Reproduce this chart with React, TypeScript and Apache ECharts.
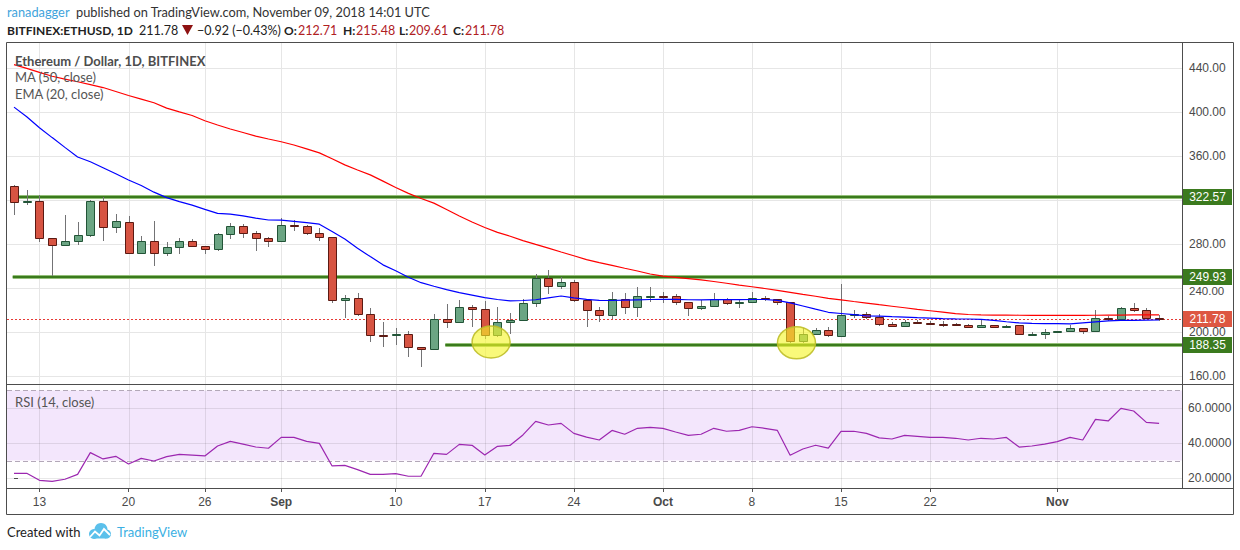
import React, { useEffect, useRef } from "react";
import * as echarts from "echarts";

// ---------- data ----------
const dates: string[] = [
  "08-11","08-12","08-13","08-14","08-15","08-16","08-17","08-18","08-19","08-20",
  "08-21","08-22","08-23","08-24","08-25","08-26","08-27","08-28","08-29","08-30",
  "08-31","09-01","09-02","09-03","09-04","09-05","09-06","09-07","09-08","09-09",
  "09-10","09-11","09-12","09-13","09-14","09-15","09-16","09-17","09-18","09-19",
  "09-20","09-21","09-22","09-23","09-24","09-25","09-26","09-27","09-28","09-29",
  "09-30","10-01","10-02","10-03","10-04","10-05","10-06","10-07","10-08","10-09",
  "10-10","10-11","10-12","10-13","10-14","10-15","10-16","10-17","10-18","10-19",
  "10-20","10-21","10-22","10-23","10-24","10-25","10-26","10-27","10-28","10-29",
  "10-30","10-31","11-01","11-02","11-03","11-04","11-05","11-06","11-07","11-08",
  "11-09",
];

const open = [
  332.7,318.5,318.8,285.2,278.8,282.4,287.9,318.8,295.2,299.7,
  271.5,282.4,271.5,277,282.4,278,275.2,288.8,296.1,289.7,
  285.2,282.4,297,296.1,289.7,286.1,228.8,230.6,216,197.3,
  197.3,197.9,186,184.3,211.5,208.8,222.5,220.6,197,208.8,
  210.6,226.1,248.8,241.5,245.2,228.8,219.7,215.2,229.7,222.5,
  232.5,233,232.5,227,221.5,223.3,229.7,226,227,230.9,
  229.7,227,191.5,197.9,201.5,196.7,215.2,216.1,213.4,207,
  205.2,208.8,208,207.5,207,206.1,204.3,206.1,205.3,206.1,
  197.9,197.9,200.3,200.6,203.3,200.6,213,211.5,221.5,219.7,
  212.71,
];
const close = [
  318.5,319,285.2,278.8,282.4,287.9,318.8,295.2,300.6,271.5,
  282.4,271.5,277,282.4,278,275.2,288.8,296.1,289.7,285.2,
  282.4,297,296.5,289.7,286.1,229.1,230.6,216,197,196.8,
  197.8,186,184.3,211.5,208.8,222.5,220.6,197,208.8,210.6,
  226.1,248.8,241.5,245.2,228.8,219.7,215.2,229.7,222.5,232.5,
  233,232.7,227,221.5,223.3,229.7,226,226.9,230.9,230.3,
  227,191.5,197.9,201.5,197,215.2,216.4,213.4,207,205.2,
  208.8,208.5,207.7,207.2,206.2,204.3,206.1,204.8,205.6,197.9,
  198.2,200,200.6,203.3,200.6,213,211.5,221.5,219.7,212.7,
  211.78,
];
const low = [
  306.4,315.7,282.1,250.9,278.8,279.4,286.7,283,289.7,270.6,
  271.5,260.3,269.4,270.6,278,270.6,273.3,284.2,285.8,273.9,
  277.6,282.4,291.5,287.9,282.4,226.6,212.4,214.9,191.2,186.7,
  188.5,177,168.5,184.3,204,208.8,204.3,194,195.1,197.9,
  210.6,222.5,234.3,238.8,227,204.3,208.8,211.5,216,213.3,
  227.7,226,224.1,214.5,220.3,223.3,224.2,222.1,227,227.9,
  224.9,189.7,189.7,197.9,195.1,196,213,211.5,205.2,204.5,
  205,207.5,206.6,204.3,205.5,203.8,203.5,204.3,204.8,197,
  197.5,194,199.5,200,197.9,200,209.7,211,218.5,212.5,
  209.61,
];
const high = [
  333.6,329,324.5,285.2,306.4,299.7,319.7,322.5,307,305.5,
  287.3,300.9,281.8,285.2,284.5,278.5,289.7,299,297.9,291.5,
  286.5,303.4,301.5,297,294.3,286.1,233.6,235.5,221.8,209.1,
  203.6,200.9,186.5,216.4,225.5,229,224.5,228.2,222.5,217,
  230.3,252.7,256.4,250.3,247,228.8,222.5,236.1,235.2,240.6,
  241,236.4,234.2,227,229,235.2,230.5,229.4,236.4,232.7,
  230,227,203.3,203.3,204.5,243.3,219.7,218,216,208.8,
  210.5,211,210,210,208,207,211.5,206.6,206.2,206.6,
  199.7,202.5,201.2,206.1,203.8,219.7,214.9,222.5,226.1,221.5,
  215.48,
];
const ma50 = [
  443.1,439.6,436,432.5,429.9,427.5,424.9,422.2,418.6,415,
  411.7,408.4,403.5,400.1,396.8,392,388.2,384.5,381.3,378.1,
  375.4,372.9,370,366.4,362.8,357.4,351.9,347.3,342.8,337.1,
  331.4,326,321.3,317.1,311.4,305.5,300,295,290.5,287,
  283.1,279.6,276.2,272.7,269.3,265.8,263.1,260.5,257.9,255.4,
  252.7,250.7,249.6,248.5,247.3,245.9,244.3,242.6,241.1,239.5,
  237.8,236,234.2,232.5,230.6,229.2,227.7,226.3,224.8,223.4,
  222,220.6,219.3,218,216.6,215.9,215.6,215.4,215.3,215.2,
  215.1,215,215,215,215.1,215.2,215.3,215.4,215.5,215.5,
  215.5,
];
const ema20 = [
  404.4,395.7,385.7,376.7,367.8,359.1,354.7,349.3,343.8,338.2,
  333.1,327.1,322.1,318.5,315.3,311.5,307.8,307.2,305.5,303.5,
  301.8,301.6,300.6,299.4,298,291.3,284.5,276.1,268.5,261,
  255.6,249.8,244.8,241.6,238.5,235.7,233.5,231.2,229.5,228.3,
  228.6,229.3,231,232.7,231,229.6,228.8,228.6,228.9,229.2,
  229.5,229.7,229.6,229.3,229.2,229.4,229.5,229.4,229.5,229.5,
  228.8,226.5,223.6,220.7,217.9,216.8,215.7,214.6,214.4,213.9,
  213.5,213,212.6,212.2,211.9,211.8,211.4,210.5,209.3,208.2,
  207.8,207.6,207.5,207.3,208.2,209.1,210,210.5,210.6,210.8,
  210.9,
];
const rsi14 = [
  22.7,22.7,18.7,18.1,19.3,22.1,34.5,30.9,32.4,28,
  31.2,29.7,32.2,33.5,33.1,32.6,38.3,40.9,39.4,37.7,
  37,43.2,43.2,40.9,39.8,26.9,27.2,24.8,22.1,22.1,
  22.5,21,21.1,34.1,33.5,39.2,38.7,33.1,38.1,38.7,
  44.6,52.4,50.3,51.2,45.5,43.4,41.7,47.2,45,48.4,
  48.9,48.4,46.3,44.4,45,48.4,46.7,47.2,49.3,48.4,
  47.2,33,36.6,38.7,37.1,46.7,46.7,45.5,42.9,42.3,
  44.4,43.8,43.2,43.2,42.7,41.7,42.7,42.3,43.2,37.7,
  38.3,39.4,40.8,43.2,41.7,53.5,52.6,59.8,58.3,51.8,
  51.2,
];

const tickIndex = [2, 9, 15, 21, 30, 37, 44, 51, 58, 65, 72, 82];
const tickText = ["13", "20", "26", "Sep", "10", "17", "24", "Oct", "8", "15", "22", "Nov"];
const monthTicks = ["Sep", "Oct", "Nov"];
const priceTicks = [160, 200, 240, 280, 320, 360, 400, 440];
const priceTicksCovered = [320]; // hidden behind the 322.57 tag in the reference
const rsiTicks = [20, 40, 60];
const rsiBand = [30, 70];
const levelValues = [322.57, 249.93, 188.35];
const levelStart = [0.4, -0.1, 33.9];
const circleX = [37.5, 61.5];
const circleY = [190.9, 190.2];

// ---------- layout ----------
const X_MIN = -0.55;
const X_MAX = 91.8;
const P_MIN = 152.7;
const P_MAX = 462.7;
const R_MIN = 14.29;
const R_MAX = 73.14;
const UI_FONT = 'Lato, "Noto Sans", sans-serif';
const AX_FONT = '"Liberation Sans", Arial, sans-serif';

const UP_FILL = "#6ba583";
const UP_LINE = "#225437";
const DN_FILL = "#d75442";
const DN_LINE = "#5b1a13";
const WICK = "#737375";
const GRID = "#e6e6e6";

function buildOption(): any {
  const last = close.length - 1;
  const chg = close[last] - close[last - 1];
  const pct = (chg / close[last - 1]) * 100;
  const sgn = (v: number, d: number) => (v < 0 ? "\u2212" : "+") + Math.abs(v).toFixed(d);

  const candleData = open.map((o, i) => [i, o, close[i], low[i], high[i]]);
  // price labels sitting just under a level tag are nudged down a little
  const nudged = priceTicks.filter((v) => levelValues.some((l) => l - v > 0 && l - v < 12));

  const hLine = (stroke: string, dash?: number[]) => (params: any, api: any) => {
    const v = api.value(0);
    const a = api.coord([X_MIN, v]);
    const b = api.coord([X_MAX, v]);
    const y = Math.round(a[1]) + 0.5;
    return {
      type: "line",
      shape: { x1: a[0], y1: y, x2: b[0], y2: y },
      style: dash ? { stroke, lineWidth: 1, lineDash: dash } : { stroke, lineWidth: 1 },
    };
  };
  const vLine = (stroke: string, yRef: number) => (params: any, api: any) => {
    const cs = params.coordSys;
    const x = Math.round(api.coord([api.value(0), yRef])[0]) + 0.5;
    return {
      type: "line",
      shape: { x1: x, y1: cs.y, x2: x, y2: cs.y + cs.height },
      style: { stroke, lineWidth: 1 },
    };
  };

  const text = (x: number, y: number, t: string, fill: string, font: string, align = "left") => ({
    type: "text",
    x,
    y,
    silent: true,
    z: 100,
    style: {
      text: t,
      fill,
      font,
      textAlign: align,
      align,
      textVerticalAlign: "middle",
      verticalAlign: "middle",
    },
  });

  const f13 = `13px ${UI_FONT}`;
  const f12 = `12.5px ${UI_FONT}`;
  const b12 = `bold 12px ${UI_FONT}`;
  const RED_TXT = "#b0201f";
  const DARK = "#222222";

  return {
    animation: false,
    backgroundColor: "#ffffff",
    grid: [
      { left: 7, top: 43, width: 1175, height: 341 },
      { left: 7, top: 385, width: 1175, height: 103 },
    ],
    xAxis: [
      {
        gridIndex: 0,
        type: "value",
        min: X_MIN,
        max: X_MAX,
        axisLine: { show: false },
        axisTick: { show: false },
        axisLabel: { show: false },
        splitLine: { show: false },
      },
      {
        gridIndex: 1,
        type: "value",
        min: X_MIN,
        max: X_MAX,
        axisLine: { show: false },
        splitLine: { show: false },
        axisTick: {
          show: true,
          customValues: tickIndex,
          length: 4,
          lineStyle: { color: "#555555" },
        },
        axisLabel: {
          customValues: tickIndex,
          margin: 8,
          color: "#4a4a4a",
          fontFamily: AX_FONT,
          fontSize: 12,
          formatter: (v: number) => {
            const k = tickIndex.indexOf(Math.round(v));
            const t = k >= 0 ? tickText[k] : "";
            return monthTicks.indexOf(t) >= 0 ? `{m|${t}}` : t;
          },
          rich: {
            m: { fontWeight: "bold", color: "#4a4a4a", fontFamily: AX_FONT, fontSize: 12 },
          },
        },
      },
    ],
    yAxis: [
      {
        gridIndex: 0,
        type: "value",
        position: "right",
        min: P_MIN,
        max: P_MAX,
        axisLine: { show: false },
        splitLine: { show: false },
        axisTick: {
          show: true,
          customValues: priceTicks,
          length: 4,
          lineStyle: { color: "#555555" },
        },
        axisLabel: {
          customValues: priceTicks.filter((v) => priceTicksCovered.indexOf(v) < 0),
          margin: 7,
          color: "#4a4a4a",
          fontFamily: AX_FONT,
          fontSize: 12,
          formatter: (v: number) =>
            nudged.indexOf(v) >= 0 ? `{q|${v.toFixed(2)}}` : `{p|${v.toFixed(2)}}`,
          rich: {
            p: { fontFamily: AX_FONT, fontSize: 12, color: "#4a4a4a", lineHeight: 10 },
            q: {
              fontFamily: AX_FONT,
              fontSize: 11.5,
              color: "#4a4a4a",
              lineHeight: 10,
              padding: [6, 0, 0, 0],
            },
          },
        },
      },
      {
        gridIndex: 1,
        type: "value",
        position: "right",
        min: R_MIN,
        max: R_MAX,
        axisLine: { show: false },
        splitLine: { show: false },
        axisTick: {
          show: true,
          customValues: rsiTicks,
          length: 4,
          lineStyle: { color: "#555555" },
        },
        axisLabel: {
          customValues: rsiTicks,
          margin: 6,
          color: "#4a4a4a",
          fontFamily: AX_FONT,
          fontSize: 12,
          formatter: (v: number) => v.toFixed(4),
        },
      },
    ],
    series: [
      // main pane grid
      {
        type: "custom",
        name: "priceGrid",
        xAxisIndex: 0,
        yAxisIndex: 0,
        z: 1,
        silent: true,
        data: priceTicks.map((v) => [v]),
        renderItem: hLine(GRID),
      },
      {
        type: "custom",
        name: "timeGrid",
        xAxisIndex: 0,
        yAxisIndex: 0,
        z: 1,
        silent: true,
        data: tickIndex.map((v) => [v]),
        renderItem: vLine(GRID, 300),
      },
      // RSI pane band, grid, dashed bounds
      {
        type: "custom",
        name: "rsiBand",
        xAxisIndex: 1,
        yAxisIndex: 1,
        z: 1,
        silent: true,
        data: [[rsiBand[0], rsiBand[1]]],
        renderItem: (params: any, api: any) => {
          const a = api.coord([X_MIN, api.value(1)]);
          const b = api.coord([X_MAX, api.value(0)]);
          return {
            type: "rect",
            shape: { x: a[0], y: a[1], width: b[0] - a[0], height: b[1] - a[1] },
            style: { fill: "#f3e6fc" },
          };
        },
      },
      {
        type: "custom",
        name: "rsiGridH",
        xAxisIndex: 1,
        yAxisIndex: 1,
        z: 2,
        silent: true,
        data: rsiTicks.map((v) => [v]),
        renderItem: hLine("rgba(0,0,0,0.09)"),
      },
      {
        type: "custom",
        name: "rsiGridV",
        xAxisIndex: 1,
        yAxisIndex: 1,
        z: 2,
        silent: true,
        data: tickIndex.map((v) => [v]),
        renderItem: vLine("rgba(0,0,0,0.09)", 40),
      },
      {
        type: "custom",
        name: "rsiBounds",
        xAxisIndex: 1,
        yAxisIndex: 1,
        z: 3,
        silent: true,
        data: rsiBand.map((v) => [v]),
        renderItem: hLine("#b3a8b8", [5, 3]),
      },
      // last price dotted line
      {
        type: "custom",
        name: "lastPriceLine",
        xAxisIndex: 0,
        yAxisIndex: 0,
        z: 3,
        silent: true,
        data: [[close[last]]],
        renderItem: hLine("#e53935", [2, 2]),
      },
      // horizontal support / resistance levels
      {
        type: "custom",
        name: "levels",
        xAxisIndex: 0,
        yAxisIndex: 0,
        z: 4,
        silent: true,
        data: levelValues.map((v, k) => [levelStart[k], v]),
        renderItem: (params: any, api: any) => {
          const a = api.coord([api.value(0), api.value(1)]);
          const b = api.coord([X_MAX, api.value(1)]);
          const y = Math.round(a[1]);
          return {
            type: "group",
            children: [
              {
                type: "line",
                shape: { x1: a[0], y1: y, x2: b[0], y2: y },
                style: { stroke: "#93bf78", lineWidth: 4 },
              },
              {
                type: "line",
                shape: { x1: a[0], y1: y, x2: b[0], y2: y },
                style: { stroke: "#3a7a1c", lineWidth: 2 },
              },
            ],
          };
        },
      },
      // candles
      {
        type: "custom",
        name: "BITFINEX:ETHUSD",
        xAxisIndex: 0,
        yAxisIndex: 0,
        z: 5,
        data: candleData,
        encode: { x: 0, y: [1, 2, 3, 4] },
        renderItem: (params: any, api: any) => {
          const i = api.value(0);
          const o = api.value(1);
          const c = api.value(2);
          const l = api.value(3);
          const h = api.value(4);
          const pO = api.coord([i, o]);
          const pC = api.coord([i, c]);
          const pL = api.coord([i, l]);
          const pH = api.coord([i, h]);
          const x = Math.round(pO[0]) + 0.5;
          const top = Math.round(Math.min(pO[1], pC[1])) + 0.5;
          const bot = Math.round(Math.max(pO[1], pC[1])) + 0.5;
          const up = c >= o;
          return {
            type: "group",
            children: [
              {
                type: "line",
                shape: { x1: x, y1: Math.round(pH[1]), x2: x, y2: Math.round(pL[1]) },
                style: { stroke: WICK, lineWidth: 1 },
              },
              {
                type: "rect",
                shape: { x: x - 4, y: top, width: 8, height: Math.max(bot - top, 1) },
                style: {
                  fill: up ? UP_FILL : DN_FILL,
                  stroke: up ? UP_LINE : DN_LINE,
                  lineWidth: 1,
                },
              },
            ],
          };
        },
      },
      {
        type: "line",
        name: "MA (50, close)",
        xAxisIndex: 0,
        yAxisIndex: 0,
        z: 6,
        data: ma50.map((v, i) => [i, v]),
        showSymbol: false,
        symbol: "none",
        lineStyle: { color: "#ff0000", width: 1.2 },
        itemStyle: { color: "#ff0000" },
      },
      {
        type: "line",
        name: "EMA (20, close)",
        xAxisIndex: 0,
        yAxisIndex: 0,
        z: 6,
        data: ema20.map((v, i) => [i, v]),
        showSymbol: false,
        symbol: "none",
        lineStyle: { color: "#0000ff", width: 1.2 },
        itemStyle: { color: "#0000ff" },
      },
      {
        type: "line",
        name: "RSI (14, close)",
        xAxisIndex: 1,
        yAxisIndex: 1,
        z: 6,
        data: rsi14.map((v, i) => [i, v]),
        showSymbol: false,
        symbol: "none",
        lineStyle: { color: "#9c27b0", width: 1.2 },
        itemStyle: { color: "#9c27b0" },
      },
      // highlight circles
      {
        type: "custom",
        name: "highlights",
        xAxisIndex: 0,
        yAxisIndex: 0,
        z: 7,
        silent: true,
        data: circleX.map((x, k) => [x, circleY[k]]),
        renderItem: (params: any, api: any) => {
          const p = api.coord([api.value(0), api.value(1)]);
          return {
            type: "ellipse",
            shape: { cx: p[0], cy: p[1], rx: 19, ry: 16 },
            style: {
              fill: "rgba(245,245,40,0.62)",
              stroke: "rgba(190,190,40,0.9)",
              lineWidth: 1.5,
            },
          };
        },
      },
      // price-scale value tags
      {
        type: "custom",
        name: "tags",
        xAxisIndex: 0,
        yAxisIndex: 0,
        z: 20,
        clip: false,
        silent: true,
        data: [...levelValues.map((v) => [v, 0]), [close[last], 1]],
        renderItem: (params: any, api: any) => {
          const v = api.value(0);
          const p = api.coord([X_MAX, v]);
          const y = Math.round(p[1]);
          return {
            type: "group",
            children: [
              {
                type: "rect",
                shape: { x: p[0] + 1, y: y - 8, width: 49, height: 16 },
                style: { fill: api.value(1) === 1 ? "#dd5742" : "#3b7a1e" },
              },
              {
                type: "text",
                x: p[0] + 25.5,
                y: y,
                style: {
                  text: v.toFixed(2),
                  fill: "#ffffff",
                  font: `12px ${AX_FONT}`,
                  lineHeight: 11,
                  textAlign: "center",
                  align: "center",
                  textVerticalAlign: "middle",
                  verticalAlign: "middle",
                },
              },
            ],
          };
        },
      },
    ],
    graphic: {
      elements: [
        // frame
        {
          type: "rect",
          silent: true,
          z: 90,
          shape: { x: 6.5, y: 42.5, width: 1227, height: 472 },
          style: { fill: "none", stroke: "#4d4d4d", lineWidth: 1 },
        },
        {
          type: "line",
          silent: true,
          z: 90,
          shape: { x1: 6.5, y1: 384.5, x2: 1233.5, y2: 384.5 },
          style: { stroke: "#4d4d4d", lineWidth: 1 },
        },
        {
          type: "line",
          silent: true,
          z: 90,
          shape: { x1: 6.5, y1: 488.5, x2: 1233.5, y2: 488.5 },
          style: { stroke: "#4d4d4d", lineWidth: 1 },
        },
        {
          type: "line",
          silent: true,
          z: 90,
          shape: { x1: 1182.5, y1: 42.5, x2: 1182.5, y2: 488.5 },
          style: { stroke: "#4d4d4d", lineWidth: 1 },
        },
        // header
        text(7, 12, "ranadagger", "#3fa4dc", `12.8px ${UI_FONT}`),
        text(76, 12, "published on TradingView.com, November 09, 2018 14:01 UTC", "#333333", `12.8px ${UI_FONT}`),
        text(7, 30, "BITFINEX:ETHUSD, 1D", DARK, b12),
        text(139, 30, close[last].toFixed(2), DARK, f12),
        {
          type: "polygon",
          silent: true,
          z: 100,
          shape: { points: [[182, 25], [193, 25], [187.5, 35]] },
          style: { fill: "#8e1212" },
        },
        text(197, 30, `${sgn(chg, 2)} (${sgn(pct, 2)}%)`, DARK, f12),
        text(284, 30, "O:", DARK, b12),
        text(298, 30, open[last].toFixed(2), RED_TXT, f12),
        text(343, 30, "H:", DARK, b12),
        text(356, 30, high[last].toFixed(2), RED_TXT, f12),
        text(399, 30, "L:", DARK, b12),
        text(409, 30, low[last].toFixed(2), RED_TXT, f12),
        text(453, 30, "C:", DARK, b12),
        text(465, 30, close[last].toFixed(2), RED_TXT, f12),
        // legends
        text(15, 61, "Ethereum / Dollar, 1D, BITFINEX", "#4d4d4d", `bold 13px ${UI_FONT}`),
        text(15, 77, "MA (50, close)", "#555555", f13),
        text(15, 94, "EMA (20, close)", "#555555", f13),
        text(15, 402, "RSI (14, close)", "#555555", f13),
        // footer
        text(7, 532, "Created with", DARK, f13),
        {
          type: "group",
          silent: true,
          z: 100,
          children: [
            { type: "circle", shape: { cx: 94, cy: 534, r: 5 }, style: { fill: "#5bc0eb" } },
            { type: "circle", shape: { cx: 101, cy: 529.5, r: 6.5 }, style: { fill: "#5bc0eb" } },
            { type: "circle", shape: { cx: 106.5, cy: 534, r: 4.5 }, style: { fill: "#5bc0eb" } },
            { type: "rect", shape: { x: 94, y: 532, width: 12.5, height: 6.5 }, style: { fill: "#5bc0eb" } },
            {
              type: "polyline",
              shape: { points: [[90, 537], [95, 531.5], [99.5, 535.5], [104, 529], [110, 535]] },
              style: { stroke: "#ffffff", lineWidth: 1.8, fill: "none" },
            },
          ],
        },
        text(117, 532, "TradingView", "#3bb0e3", f13),
      ],
    },
  };
}

export default function App() {
  const ref = useRef<HTMLDivElement>(null);
  useEffect(() => {
    if (!ref.current) return;
    const chart = echarts.init(ref.current, undefined, { renderer: "svg" });
    chart.setOption(buildOption());
    return () => chart.dispose();
  }, []);
  return (
    <div
      ref={ref}
      style={{ position: "fixed", left: 0, top: 0, width: 1240, height: 550, background: "#ffffff" }}
    />
  );
}
